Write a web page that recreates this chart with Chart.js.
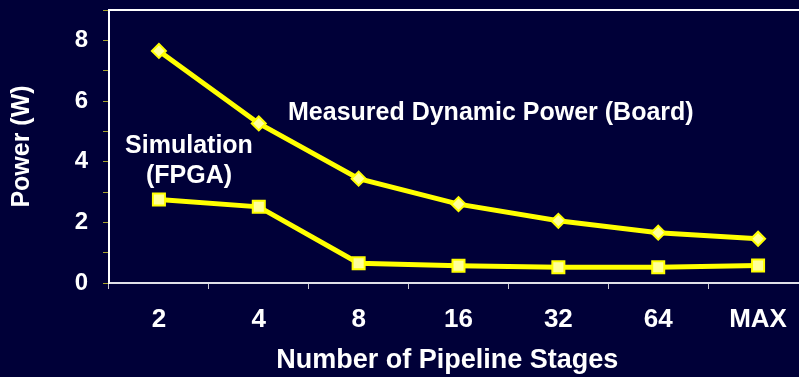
<!DOCTYPE html>
<html>
<head>
<meta charset="utf-8">
<script src="https://cdn.jsdelivr.net/npm/chart.js@4.4.1/dist/chart.umd.min.js"></script>
<style>
  html, body { margin: 0; padding: 0; background: #000038; overflow: hidden; }
  #chart { display: block; }
</style>
</head>
<body>
<!-- the plot frame runs a few px past the right edge of the picture -->
<canvas id="chart" width="808" height="377"></canvas>
<script>
const stages = ['2', '4', '8', '16', '32', '64', 'MAX'];
const measuredPower = [7.65, 5.26, 3.44, 2.60, 2.05, 1.66, 1.46];
const simulatedPower = [2.75, 2.51, 0.65, 0.57, 0.52, 0.52, 0.58];

const FONT = "'Liberation Sans', Arial, sans-serif";
const YELLOW = '#ffff00';
const PALE = '#ffff99';

// top frame line + free text labels on the plot (like the slide annotations)
const notes = {
  id: 'notes',
  afterDatasetsDraw(chart) {
    const { ctx, chartArea } = chart;
    ctx.save();
    ctx.strokeStyle = '#ffffff';
    ctx.lineWidth = 2;
    ctx.beginPath();
    ctx.moveTo(chartArea.left, chartArea.top);
    ctx.lineTo(chartArea.right, chartArea.top);
    ctx.stroke();

    ctx.fillStyle = '#ffffff';
    ctx.font = 'bold 25px ' + FONT;
    ctx.textBaseline = 'alphabetic';
    ctx.textAlign = 'left';
    ctx.fillText('Measured Dynamic Power (Board)', 288, 120);
    ctx.textAlign = 'center';
    ctx.fillText('Simulation', 189, 153);
    ctx.fillText('(FPGA)', 189, 183);
    ctx.restore();
  }
};

new Chart(document.getElementById('chart'), {
  type: 'line',
  data: {
    labels: stages,
    datasets: [
      {
        label: 'Measured Dynamic Power (Board)',
        data: measuredPower,
        borderColor: YELLOW,
        borderWidth: 5,
        pointStyle: 'rectRot',
        pointRadius: 7,
        pointBackgroundColor: PALE,
        pointBorderColor: YELLOW,
        pointBorderWidth: 2,
        tension: 0
      },
      {
        label: 'Simulation (FPGA)',
        data: simulatedPower,
        borderColor: YELLOW,
        borderWidth: 5,
        pointStyle: 'rect',
        pointRadius: 8.5,
        pointBackgroundColor: PALE,
        pointBorderColor: YELLOW,
        pointBorderWidth: 2,
        tension: 0
      }
    ]
  },
  options: {
    responsive: false,
    animation: false,
    layout: { autoPadding: false, padding: { top: 10, left: 0, right: 0, bottom: 0 } },
    scales: {
      x: {
        position: 'bottom',
        offset: true,
        afterFit: s => { s.height = 94; s.paddingLeft = 0; s.paddingRight = 0; },
        grid: { offset: true, drawOnChartArea: false, tickLength: 6, tickColor: '#c8c8d0' },
        border: { color: '#e0e0e8', width: 2 },
        ticks: { color: '#ffffff', padding: 15, font: { family: FONT, size: 26, weight: 'bold' } },
        title: {
          display: true,
          text: 'Number of Pipeline Stages\u00a0\u00a0\u00a0',
          color: '#ffffff',
          padding: { top: 0, bottom: 0 },
          font: { family: FONT, size: 27, weight: 'bold' }
        }
      },
      y: {
        min: 0,
        max: 9,
        afterFit: s => { s.width = 109; s.paddingTop = 0; s.paddingBottom = 0; },
        grid: { drawOnChartArea: false, tickLength: 6, tickColor: '#a8a42c' },
        border: { color: '#ffffff', width: 2 },
        ticks: {
          stepSize: 1,
          autoSkip: false,
          padding: 15,
          color: '#ffffff',
          font: { family: FONT, size: 24, weight: 'bold' },
          callback: v => (v % 2 === 0 ? v : '')
        },
        title: {
          display: true,
          text: 'Power (W)',
          color: '#ffffff',
          padding: { top: 7, bottom: 0 },
          font: { family: FONT, size: 25, weight: 'bold' }
        }
      }
    },
    plugins: {
      legend: { display: false },
      tooltip: { enabled: false }
    }
  },
  plugins: [notes]
});
</script>
</body>
</html>
